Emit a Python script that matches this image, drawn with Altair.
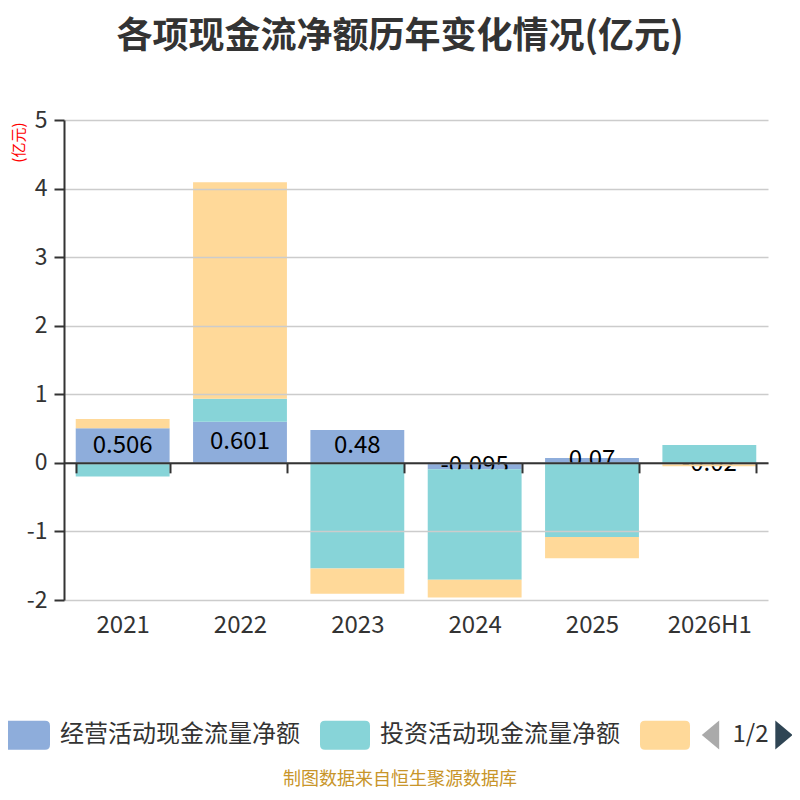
import altair as alt
import pandas as pd

years = ["2021", "2022", "2023", "2024", "2025", "2026H1"]
series = ["经营活动现金流量净额", "投资活动现金流量净额", "筹资活动现金流量净额"]
operating = [0.506, 0.601, 0.48, -0.095, 0.07, -0.02]
investing = [-0.20, 0.335, -1.54, -1.61, -1.08, 0.26]
financing = [0.134, 3.155, -0.37, -0.26, -0.31, -0.03]
colors = ["#8EADDB", "#87D4D8", "#FFD999"]
y_ticks = [-2, -1, 0, 1, 2, 3, 4, 5]
title_text = "各项现金流净额历年变化情况(亿元)"
y_title = "(亿元)"
footer_text = "制图数据来自恒生聚源数据库"
pager_text = "1/2"

rows = []
for i, yr in enumerate(years):
    for j, vals in enumerate([operating, investing, financing]):
        rows.append({"year": yr, "series": series[j], "order": j, "value": vals[i]})
df = pd.DataFrame(rows)

FONT = "Noto Sans CJK SC"

base = alt.Chart(df).transform_stack(
    stack="value", groupby=["year"], as_=["v0", "v1"], sort=[alt.SortField("order")]
).transform_calculate(mid="(datum.v0 + datum.v1) / 2", lbl="'' + datum.value")

x_enc = alt.X(
    "year:N", sort=years, title=None,
    scale=alt.Scale(paddingInner=0.2, paddingOuter=0.1),
    axis=alt.Axis(
        offset=-480 * 2 / 7, domainColor="#333", domainWidth=2, tickColor="#333",
        tickWidth=2, tickSize=10, tickBand="extent", labelFontSize=24, labelAngle=0,
        labelColor="#333", labelPadding=141, labelFont=FONT, grid=False, zindex=1,
    ),
)
y_axis = alt.Axis(
    values=y_ticks, title=y_title, titleColor="red", titleFontSize=15,
    titleFontWeight="normal", titleFont=FONT, titleAngle=-90, titleX=-46, titleY=2,
    titleAlign="right", titleBaseline="middle",
    domainColor="#333", domainWidth=2, tickColor="#333", tickWidth=2, tickSize=10,
    labelFontSize=23, labelColor="#333", labelPadding=7, labelFont=FONT,
    labelExpr="toString(datum.value)", gridColor="#cccccc", gridWidth=1.5, zindex=1,
)
y_scale = alt.Scale(domain=[-2, 5], nice=False, zero=False)

legend_path = ("M-0.8,-0.58 L0.8,-0.58 Q1,-0.58 1,-0.38 L1,0.38 Q1,0.58 0.8,0.58 "
               "L-0.8,0.58 Q-1,0.58 -1,0.38 L-1,-0.38 Q-1,-0.58 -0.8,-0.58 Z")
color_enc = alt.Color(
    "series:N",
    scale=alt.Scale(domain=series, range=colors),
    legend=alt.Legend(
        orient="none", legendX=-64, legendY=590, direction="horizontal", title=None,
        symbolType=legend_path, symbolSize=2500, symbolStrokeWidth=0, symbolOpacity=1,
        labelFontSize=24, labelColor="#333", labelFont=FONT, labelOffset=10,
        columnPadding=20, labelLimit=400, padding=0,
        labelExpr="datum.label == '筹资活动现金流量净额' ? '' : datum.label",
    ),
)

blue = base.transform_filter("datum.order == 0").mark_bar().encode(
    x=x_enc, y=alt.Y("v0:Q", scale=y_scale, axis=y_axis), y2="v1:Q", color=color_enc
)
labels = base.transform_filter("datum.order == 0").mark_text(
    fontSize=24, color="black", baseline="middle", font=FONT
).encode(x=x_enc, y=alt.Y("mid:Q", scale=y_scale, axis=y_axis), text="lbl:N")
others = base.transform_filter("datum.order > 0").mark_bar().encode(
    x=x_enc, y=alt.Y("v0:Q", scale=y_scale, axis=y_axis), y2="v1:Q", color=color_enc
)

footer = alt.Chart(pd.DataFrame({"t": [footer_text]})).mark_text(
    fontSize=18, color="#C8952A", font=FONT, baseline="middle", align="center"
).encode(text="t:N", x=alt.value(336), y=alt.value(660))

pager = alt.Chart(pd.DataFrame({"t": [pager_text]})).mark_text(
    fontSize=24, color="#333", font=FONT, baseline="middle", align="center"
).encode(text="t:N", x=alt.value(686.5), y=alt.value(615))

left_tri = alt.Chart(pd.DataFrame({"k": [0]})).mark_point(
    shape="M0.6,-1 L0.6,1 L-0.6,0 Z", filled=True, size=841, color="#aaaaaa", opacity=1
).encode(x=alt.value(646.5), y=alt.value(615))
right_tri = alt.Chart(pd.DataFrame({"k": [0]})).mark_point(
    shape="M-0.6,-1 L-0.6,1 L0.6,0 Z", filled=True, size=841, color="#2F4554", opacity=1
).encode(x=alt.value(720), y=alt.value(615))

chart = alt.layer(blue, labels, others, footer, pager, left_tri, right_tri).properties(
    width=704, height=480,
    autosize=alt.AutoSizeParams(type="none"),
    padding={"left": 56, "top": 112, "right": 24, "bottom": 192},
    title=alt.TitleParams(
        text=title_text, fontSize=36, fontWeight="bold", color="#333", font=FONT,
        anchor="middle", dx=-16, offset=53,
    ),
).configure_view(stroke=None)

chart.save("out.html", embed_options={"renderer": "svg", "actions": False})
